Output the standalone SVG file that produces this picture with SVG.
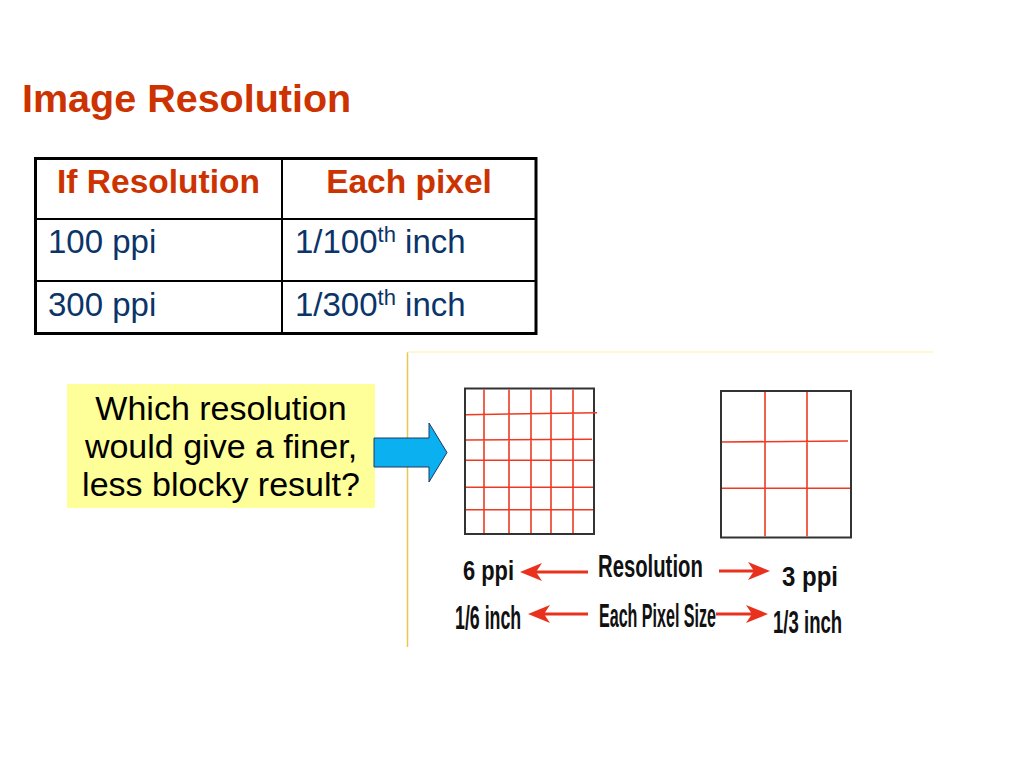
<svg xmlns="http://www.w3.org/2000/svg" width="1024" height="768" viewBox="0 0 1024 768">
<defs>
<style>
.title{font-family:"Liberation Sans",Arial,sans-serif;font-weight:bold;font-size:39.5px;fill:#CC3300}
.th{font-family:"Liberation Sans",Arial,sans-serif;font-weight:bold;font-size:33.5px;fill:#CC3300;text-anchor:middle}
.td{font-family:"Liberation Sans",Arial,sans-serif;font-size:33px;fill:#0B3468}
.sup{font-size:22px}
.q{font-family:"Liberation Sans",Arial,sans-serif;font-size:34px;fill:#000;text-anchor:middle}
.lbl{font-family:"Liberation Sans Narrow","Liberation Sans",Arial,sans-serif;font-weight:bold;fill:#111}
.grid{fill:#fff;stroke:#333;stroke-width:2}
.red{stroke:#EE3A22;stroke-width:1.6;fill:none}
.rarrow{stroke:#E8321E;stroke-width:3;fill:none;marker-end:url(#redhead)}
</style>
<marker id="redhead" viewBox="0 0 22 20" refX="16" refY="10" markerWidth="22" markerHeight="20" markerUnits="userSpaceOnUse" orient="auto">
<path d="M0,1 L22,10 L0,19 L6,10 Z" fill="#E8321E"/>
</marker>
</defs>
<rect width="1024" height="768" fill="#fff"/>

<g id="title"><text class="title" x="22" y="112">Image Resolution</text></g>

<g id="table">
<rect x="35.5" y="158.5" width="500.5" height="175" fill="#fff" stroke="#000" stroke-width="3"/>
<line x1="35.5" y1="219" x2="536" y2="219" stroke="#000" stroke-width="2"/>
<line x1="35.5" y1="281" x2="536" y2="281" stroke="#000" stroke-width="2"/>
<line x1="282" y1="158.5" x2="282" y2="333.5" stroke="#000" stroke-width="2"/>
<text class="th" x="158.5" y="193">If Resolution</text>
<text class="th" x="409" y="193">Each pixel</text>
<text class="td" x="48" y="253">100 ppi</text>
<text class="td" x="295" y="253">1/100<tspan class="sup" dy="-11">th</tspan><tspan dy="11"> inch</tspan></text>
<text class="td" x="48" y="316">300 ppi</text>
<text class="td" x="295" y="316">1/300<tspan class="sup" dy="-11">th</tspan><tspan dy="11"> inch</tspan></text>
</g>

<g id="question">
<rect x="67" y="384" width="308" height="124" fill="#FFFF99"/>
<text class="q" x="221" y="420">Which resolution</text>
<text class="q" x="221" y="458">would give a finer,</text>
<text class="q" x="221" y="496">less blocky result?</text>
</g>

<g id="picture-frame">
<line x1="407.5" y1="352" x2="407.5" y2="647" stroke="#E8C850" stroke-width="1.5"/>
<line x1="407.5" y1="352" x2="933" y2="352" stroke="#FFF3C8" stroke-width="1.5"/>
</g>

<g id="grid-6ppi">
<rect class="grid" x="465" y="388.5" width="129" height="145.5"/>
<path class="red" d="M484,389.5V533 M509,389.5V533 M531,389.5V533 M551,389.5V533 M573,389.5V533 M466,414.7L597,412.7 M466,440L592,439.3 M466,460.3H593 M466,487.3H593 M466,509.7H593"/>
</g>

<g id="grid-3ppi">
<rect class="grid" x="721" y="391" width="130" height="146.5"/>
<path class="red" d="M765,392V536.5 M807,392V536.5 M722,442L848,441 M722,488.3H850"/>
</g>

<g id="labels">
<text class="lbl" transform="translate(463,580)" font-size="27" textLength="51" lengthAdjust="spacingAndGlyphs">6 ppi</text>
<text class="lbl" transform="translate(598,577) scale(0.8,1)" font-size="31" textLength="131" lengthAdjust="spacingAndGlyphs">Resolution</text>
<text class="lbl" transform="translate(782,586)" font-size="28" textLength="56" lengthAdjust="spacingAndGlyphs">3 ppi</text>
<text class="lbl" transform="translate(455,629) scale(0.655,1)" font-size="33" textLength="101" lengthAdjust="spacingAndGlyphs">1/6 inch</text>
<text class="lbl" transform="translate(599,627) scale(0.594,1)" font-size="33" textLength="197" lengthAdjust="spacingAndGlyphs">Each Pixel Size</text>
<text class="lbl" transform="translate(773,633) scale(0.706,1)" font-size="32" textLength="98" lengthAdjust="spacingAndGlyphs">1/3 inch</text>
</g>

<g id="connectors">
<polygon points="374,438 429,438 429,423 447,452.5 429,482 429,467 374,467" fill="#0AB0F0" stroke="#1F3864" stroke-width="1"/>
<line class="rarrow" x1="588" y1="572" x2="526" y2="572"/>
<line class="rarrow" x1="719" y1="571" x2="764" y2="571"/>
<line class="rarrow" x1="588" y1="614" x2="534" y2="614"/>
<line class="rarrow" x1="716" y1="614" x2="762" y2="614"/>
</g>
</svg>
